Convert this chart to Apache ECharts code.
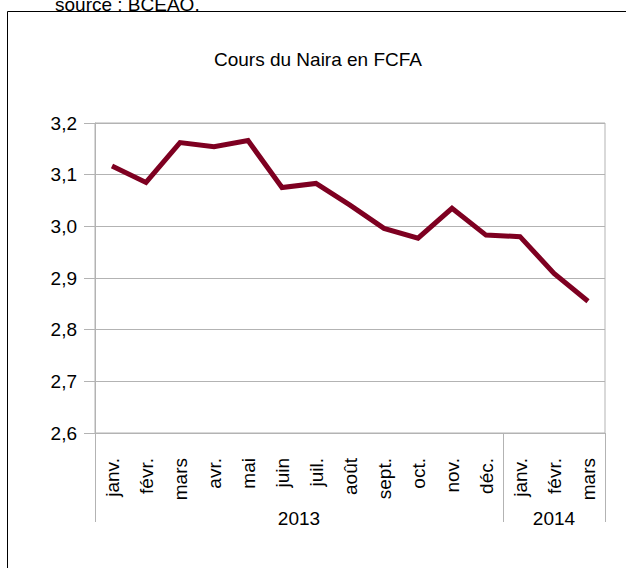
<!DOCTYPE html>
<html>
<head>
<meta charset="utf-8">
<script src="https://cdn.jsdelivr.net/npm/echarts@6/dist/echarts.min.js"></script>
<style>
html,body{margin:0;padding:0;background:#fff;}
#chart{width:626px;height:568px;}
</style>
</head>
<body>
<div id="chart"></div>
<script>
// ---- data ----
var months = ['janv.', 'févr.', 'mars', 'avr.', 'mai', 'juin', 'juil.', 'août', 'sept.', 'oct.', 'nov.', 'déc.', 'janv.', 'févr.', 'mars'];
var values = [3.117, 3.085, 3.162, 3.154, 3.166, 3.075, 3.083, 3.041, 2.996, 2.977, 3.035, 2.983, 2.980, 2.909, 2.855];
var years = ['2013', '2014'];
var yearMonthCounts = [12, 3];
var title = 'Cours du Naira en FCFA';
var source = 'source : BCEAO.';

// Build a half-step category axis for the year grouping (2 slots per month, boundary points)
var halfSlots = [];
var yearTickIdx = [0];
var pos = 0;
for (var i = 0; i <= months.length * 2; i++) halfSlots.push('');
years.forEach(function (y, k) {
  var n = yearMonthCounts[k];
  halfSlots[pos * 2 + n] = y; // center of the year span
  pos += n;
  yearTickIdx.push(pos * 2);
});

var FONT = 'Liberation Sans';
var GRAY = '#b3b3b3';
var chart = echarts.init(document.getElementById('chart'), null, {renderer: 'svg'});
chart.setOption({
  animation: false,
  backgroundColor: '#fff',
  title: {
    text: title,
    left: 313,
    top: 45,
    textAlign: 'center',
    textStyle: {fontFamily: FONT, fontSize: 19, fontWeight: 'normal', color: '#000'}
  },
  graphic: [
    {type: 'rect', shape: {x: 7.5, y: 11.5, width: 800, height: 800}, style: {fill: 'none', stroke: '#000', lineWidth: 1}, silent: true},
    {type: 'text', x: 55, y: -5, style: {text: source, font: '19px "Liberation Sans"', fill: '#000'}}
  ],
  grid: {left: 95, right: 21, top: 123, bottom: 135, show: true, borderColor: GRAY, borderWidth: 1, backgroundColor: 'transparent'},
  xAxis: [
    {
      type: 'category',
      data: months,
      boundaryGap: true,
      axisLine: {lineStyle: {color: GRAY, width: 1}},
      axisTick: {interval: 0, length: 60, lineStyle: {color: GRAY}},
      axisLabel: {interval: 0, rotate: 90, margin: 25, fontFamily: FONT, fontSize: 19, color: '#000'},
      splitLine: {show: false}
    },
    {
      type: 'category',
      data: halfSlots,
      boundaryGap: false,
      position: 'bottom',
      axisLine: {show: false},
      axisTick: {
        show: true, length: 89, lineStyle: {color: GRAY},
        interval: function (idx) { return yearTickIdx.indexOf(idx) >= 0; }
      },
      axisLabel: {
        margin: 76, fontFamily: FONT, fontSize: 19, color: '#000',
        interval: function (idx, val) { return val !== ''; }
      },
      splitLine: {show: false}
    }
  ],
  yAxis: {
    type: 'value',
    min: 2.6,
    max: 3.2,
    interval: 0.1,
    axisLine: {show: true, lineStyle: {color: GRAY, width: 1}},
    axisTick: {show: true, length: 11, lineStyle: {color: GRAY}},
    axisLabel: {
      margin: 18, fontFamily: FONT, fontSize: 19, color: '#000',
      formatter: function (v) { return v.toFixed(1).replace('.', ','); }
    },
    splitLine: {lineStyle: {color: GRAY, width: 1}}
  },
  series: [{
    type: 'line',
    data: values,
    xAxisIndex: 0,
    showSymbol: false,
    symbol: 'none',
    lineStyle: {color: '#7e0021', width: 5, join: 'miter'}
  }]
});
</script>
</body>
</html>
